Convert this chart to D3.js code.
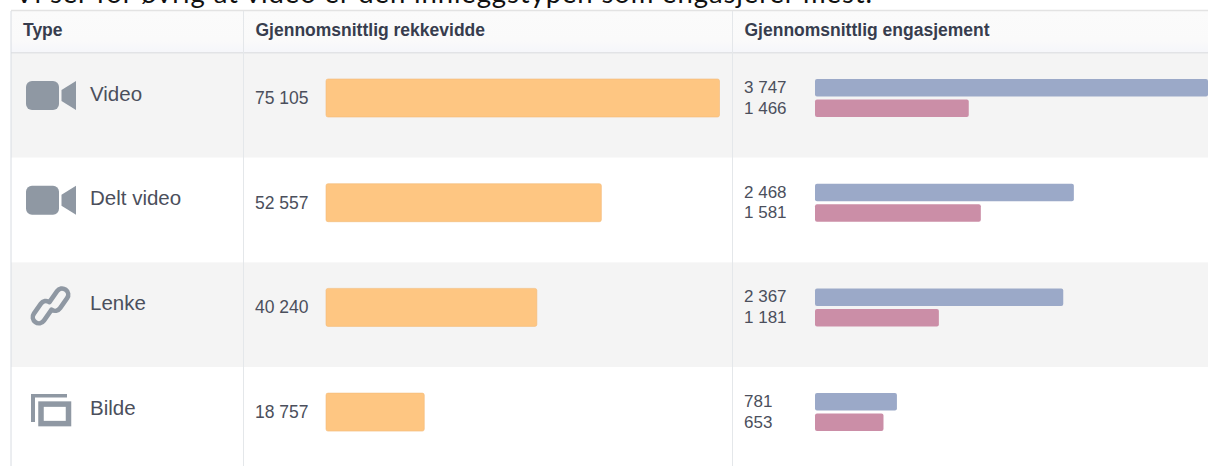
<!DOCTYPE html>
<html>
<head>
<meta charset="utf-8">
<script src="https://cdn.jsdelivr.net/npm/d3@7"></script>
<style>
    html, body { margin: 0; padding: 0; background: #fff; overflow: hidden; }
    text { font-family: "Liberation Sans", Arial, sans-serif; }
</style>
</head>
<body>
<svg id="chart" width="1208" height="466"></svg>
<script>
var titleText = "Vi ser for øvrig at video er den innleggstypen som engasjerer mest.";
var headers = ["Type", "Gjennomsnittlig rekkevidde", "Gjennomsnittlig engasjement"];
var types = ["Video", "Delt video", "Lenke", "Bilde"];
var icons = ["video", "video", "link", "photo"];
var reach = [75105, 52557, 40240, 18757];
var engagementTop = [3747, 2468, 2367, 781];
var engagementBottom = [1466, 1581, 1181, 653];

var svg = d3.select("#chart"),
    tableLeft = 11,
    col2 = 243,
    col3 = 732,
    headerTop = 11,
    headerBottom = 53,
    rowHeight = 104.7,
    barHeight = 38;

// spaces as thousands separator, as in the picture
var fmt = d3.formatLocale({decimal: ",", thousands: " ", grouping: [3], currency: ["", ""]}).format(",d");

var reachX = d3.scaleLinear().domain([0, 75105]).range([326, 719.5]);
var engageX = d3.scaleLinear().domain([0, 3747]).range([815, 1208]);
var rowY = d3.scaleBand().domain(types).range([headerBottom, headerBottom + rowHeight * 4]);

// the title is cut by the top edge in the reference too
svg.append("text")
   .attr("x", 15)
   .attr("y", 3)
   .style("font-family", "Lato, sans-serif")
   .attr("font-size", 27.5)
   .attr("textLength", 857)
   .attr("fill", "#111111")
   .text(titleText);

var defs = svg.append("defs");
var grad = defs.append("linearGradient").attr("id", "headGrad").attr("x2", 0).attr("y2", 1);
grad.append("stop").attr("offset", "0").attr("stop-color", "#fbfbfb");
grad.append("stop").attr("offset", "0.7").attr("stop-color", "#fafafa");
grad.append("stop").attr("offset", "1").attr("stop-color", "#f5f6fa");

svg.append("rect")
   .attr("x", tableLeft)
   .attr("y", headerTop)
   .attr("width", 1208 - tableLeft)
   .attr("height", headerBottom - headerTop)
   .attr("fill", "url(#headGrad)");

// zebra rows
svg.selectAll(".rowBg")
   .data(types)
   .enter()
   .append("rect")
   .attr("class", "rowBg")
   .attr("x", tableLeft)
   .attr("y", function(d) {return rowY(d); })
   .attr("width", 1208 - tableLeft)
   .attr("height", rowY.bandwidth())
   .attr("fill", function(d, i) {return i % 2 === 0 ? "#f4f4f4" : "#ffffff"; });

// table rules
svg.append("line").attr("x1", tableLeft).attr("x2", 1208).attr("y1", 10.5).attr("y2", 10.5).attr("stroke", "#e3e3e3").attr("stroke-width", 1.5);
svg.append("line").attr("x1", tableLeft).attr("x2", 1208).attr("y1", 52.8).attr("y2", 52.8).attr("stroke", "#e2e3e6").attr("stroke-width", 1.5);
svg.append("line").attr("x1", 11).attr("x2", 11).attr("y1", 11).attr("y2", 466).attr("stroke", "#d8dce2");
[col2, col3].forEach(function(x) {
    svg.append("line").attr("x1", x + 0.5).attr("x2", x + 0.5).attr("y1", 11).attr("y2", 466).attr("stroke", "#e4e7ea");
});

svg.selectAll(".headText")
   .data(headers)
   .enter()
   .append("text")
   .attr("class", "headText")
   .attr("x", function(d, i) {return [23, 255.5, 744.5][i]; })
   .attr("y", 36)
   .attr("font-size", 17.5)
   .attr("font-weight", "bold")
   .attr("fill", "#373d4e")
   .text(function(d) {return d; });

var rows = svg.selectAll(".typeRow")
              .data(types.map(function(name, i) {
                  return {name: name, icon: icons[i], reach: reach[i], top: engagementTop[i], bottom: engagementBottom[i]};
              }))
              .enter()
              .append("g")
              .attr("class", "typeRow")
              .attr("transform", function(d) {return "translate(0," + rowY(d.name) + ")"; });

rows.append("text")
    .attr("x", 90)
    .attr("y", 47.5)
    .attr("font-size", 20.5)
    .attr("fill", "#4b4f5c")
    .text(function(d) {return d.name; });

rows.append("text")
    .attr("x", 255)
    .attr("y", 51)
    .attr("font-size", 17.5)
    .attr("fill", "#4b4f5c")
    .text(function(d) {return fmt(d.reach); });

rows.append("rect")
    .attr("x", reachX(0))
    .attr("y", 26)
    .attr("width", function(d) {return reachX(d.reach) - reachX(0); })
    .attr("height", barHeight)
    .attr("rx", 2)
    .attr("fill", "#fec682")
    .attr("stroke", "#f3bb78")
    .attr("stroke-width", 0.6);

rows.append("text")
    .attr("x", 744)
    .attr("y", 40)
    .attr("font-size", 17)
    .attr("fill", "#4b4f5c")
    .text(function(d) {return fmt(d.top); });

rows.append("text")
    .attr("x", 744)
    .attr("y", 60.5)
    .attr("font-size", 17)
    .attr("fill", "#4b4f5c")
    .text(function(d) {return fmt(d.bottom); });

rows.append("rect")
    .attr("x", engageX(0))
    .attr("y", 26)
    .attr("width", function(d) {return engageX(d.top) - engageX(0); })
    .attr("height", 17.5)
    .attr("rx", 2)
    .attr("fill", "#9ba9c8");

rows.append("rect")
    .attr("x", engageX(0))
    .attr("y", 46.5)
    .attr("width", function(d) {return engageX(d.bottom) - engageX(0); })
    .attr("height", 17.5)
    .attr("rx", 2)
    .attr("fill", "#cb8ea7");

// type icons
var iconColor = "#8f98a3";

rows.filter(function(d) {return d.icon === "video"; }).each(function() {
    var g = d3.select(this);
    g.append("rect").attr("x", 26).attr("y", 28).attr("width", 33).attr("height", 29).attr("rx", 6).attr("fill", iconColor);
    g.append("path").attr("d", "M61.5 37L76 28V57L61.5 48Z").attr("fill", iconColor);
});

rows.filter(function(d) {return d.icon === "link"; }).each(function() {
    var g = d3.select(this);
    var link = g.append("g")
                .attr("transform", "translate(50.5,43.5) rotate(-55) scale(1.22)")
                .attr("fill", "none")
                .attr("stroke", iconColor)
                .attr("stroke-width", 3.8)
                .attr("stroke-linecap", "round");
    link.append("path").attr("d", "M-3 2.5H-13A5 5 0 0 1 -13 -7.5H-3A5 5 0 0 1 2 -2.5");
    link.append("path").attr("d", "M3 -2.5H13A5 5 0 0 1 13 7.5H3A5 5 0 0 1 -2 2.5");
});

rows.filter(function(d) {return d.icon === "photo"; }).each(function() {
    var g = d3.select(this);
    g.append("path").attr("d", "M31 27H67V30.5H35V55H31Z").attr("fill", iconColor);
    g.append("rect").attr("x", 41).attr("y", 37).attr("width", 27.5).attr("height", 19.5).attr("fill", "none").attr("stroke", iconColor).attr("stroke-width", 5.5);
});
</script>
</body>
</html>
